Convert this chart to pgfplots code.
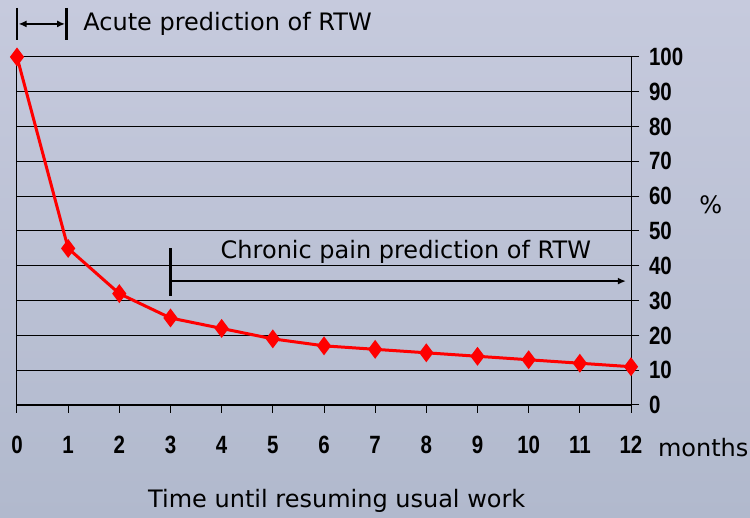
\documentclass[border=0pt]{standalone}
\usepackage{fontspec}
\setmainfont{DejaVu Sans}
\newfontfamily\narrow{Liberation Sans}[FakeStretch=0.82]
\usepackage{pgfplots}
\pgfplotsset{compat=1.18}
\usetikzlibrary{arrows.meta}
\definecolor{bgtop}{RGB}{198,202,221}
\definecolor{bgbot}{RGB}{177,185,205}
\definecolor{lineRed}{RGB}{255,0,0}

\begin{document}
\begin{tikzpicture}
\shade[top color=bgtop,bottom color=bgbot] (0,0) rectangle (375pt,259pt);
\begin{axis}[
    at={(8.5pt,56.5pt)}, anchor=south west,
    scale only axis, width=307pt, height=174pt,
    xmin=0, xmax=12, ymin=0, ymax=100,
    xtick={0,...,12}, ytick={0,10,...,100},
    xtick pos=bottom, ytick pos=right, yticklabel pos=right,
    tick align=outside, major tick length=4pt,
    ymajorgrids, grid style={black, line width=0.5pt},
    axis line style={black, line width=0.5pt},
    tick style={black, line width=0.5pt},
    /pgf/number format/assume math mode=true,
    ticklabel style={font=\narrow\bfseries\fontsize{12.5}{14}\selectfont},
    xticklabel style={yshift=-8pt},
    yticklabel style={xshift=1.5pt},
    clip=false,
]
\addplot[color=lineRed, line width=1.5pt, mark=diamond*, mark size=3.5pt,
    mark options={fill=lineRed, draw=lineRed}]
  coordinates {(0,100) (1,45) (2,32) (3,25) (4,22) (5,19) (6,17)
               (7,16) (8,15) (9,14) (10,13) (11,12) (12,11)};
\draw[black, line width=1pt] (axis cs:0,0) -- (axis cs:12,0);
% acute prediction annotation
\draw[black, line width=1.2pt] (axis cs:0,114.1) -- (axis cs:0,104.9);
\draw[black, line width=1.2pt] (axis cs:0.97,114.1) -- (axis cs:0.97,104.9);
\draw[black, line width=0.9pt, {Latex[length=4pt,width=3.5pt]}-{Latex[length=4pt,width=3.5pt]}]
  (axis cs:0.03,109.5) -- (axis cs:0.94,109.5);
\node[anchor=west, font=\fontsize{12}{14}\selectfont, inner sep=0pt] at (axis cs:1.29,109.5) {Acute prediction of RTW};
% chronic prediction annotation
\draw[black, line width=1.2pt] (axis cs:3,45.1) -- (axis cs:3,31.3);
\draw[black, line width=0.9pt, -{Latex[length=4pt,width=3.5pt]}] (axis cs:3,35.6) -- (axis cs:11.9,35.6);
\node[font=\fontsize{12}{14}\selectfont, inner sep=0pt] at (axis cs:7.6,44) {Chronic pain prediction of RTW};
% labels
\node[anchor=west, font=\fontsize{12}{14}\selectfont, inner sep=0pt] at (axis cs:12.52,-12.2) {months};
\node[font=\fontsize{12}{14}\selectfont, inner sep=0pt] at (axis cs:13.56,57.5) {\%};
\node[font=\fontsize{12}{14}\selectfont, inner sep=0pt] at (axis cs:6.25,-27.5) {Time until resuming usual work};
\end{axis}
\pgfresetboundingbox
\useasboundingbox (0,0) rectangle (375pt,259pt);
\end{tikzpicture}
\end{document}
